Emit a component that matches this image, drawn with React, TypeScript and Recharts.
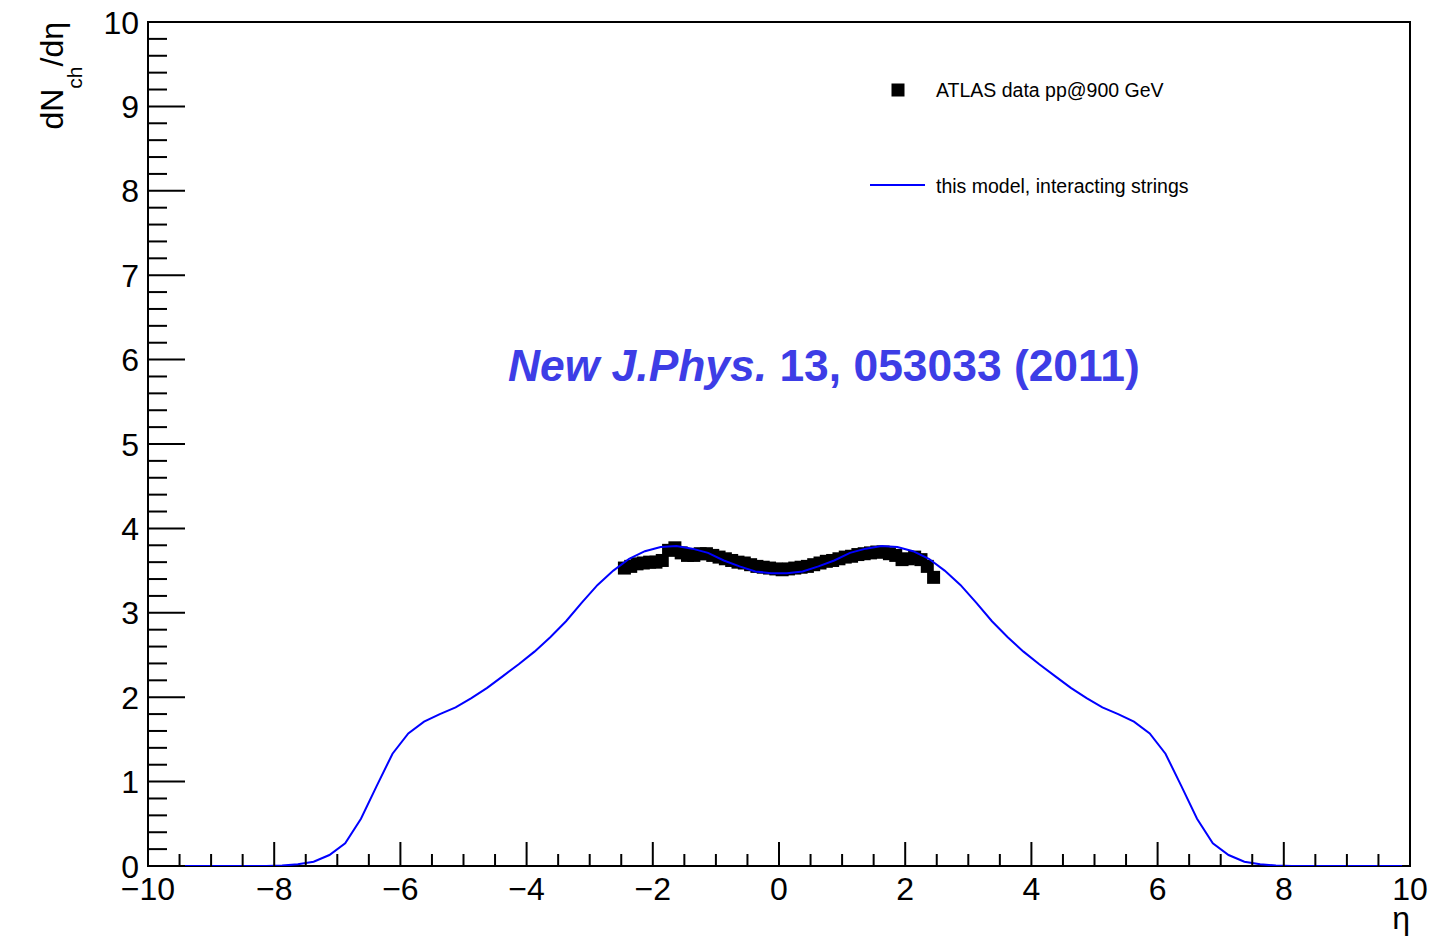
import React from "react";
import {
  ComposedChart,
  Line,
  Scatter,
  XAxis,
  YAxis,
  ReferenceArea,
} from "recharts";

// model curve, bin centres in eta
const modelEta = [
  -9.875, -9.625, -9.375, -9.125, -8.875, -8.625, -8.375, -8.125, -7.875, -7.625,
  -7.375, -7.125, -6.875, -6.625, -6.375, -6.125, -5.875, -5.625, -5.375, -5.125,
  -4.875, -4.625, -4.375, -4.125, -3.875, -3.625, -3.375, -3.125, -2.875, -2.625,
  -2.375, -2.125, -1.875, -1.625, -1.375, -1.125, -0.875, -0.625, -0.375, -0.125,
  0.125, 0.375, 0.625, 0.875, 1.125, 1.375, 1.625, 1.875, 2.125, 2.375,
  2.625, 2.875, 3.125, 3.375, 3.625, 3.875, 4.125, 4.375, 4.625, 4.875,
  5.125, 5.375, 5.625, 5.875, 6.125, 6.375, 6.625, 6.875, 7.125, 7.375,
  7.625, 7.875, 8.125, 8.375, 8.625, 8.875, 9.125, 9.375, 9.625, 9.875,
];
const modelDn = [
  0, 0, 0, 0, 0, 0, 0, 0.001, 0.005, 0.02,
  0.05, 0.13, 0.27, 0.56, 0.95, 1.33, 1.57, 1.71, 1.8, 1.88,
  1.99, 2.11, 2.25, 2.39, 2.54, 2.71, 2.9, 3.12, 3.33, 3.5,
  3.64, 3.73, 3.78, 3.79, 3.76, 3.71, 3.62, 3.55, 3.49, 3.47,
  3.47, 3.49, 3.55, 3.62, 3.71, 3.76, 3.79, 3.78, 3.73, 3.64,
  3.5, 3.33, 3.12, 2.9, 2.71, 2.54, 2.39, 2.25, 2.11, 1.99,
  1.88, 1.8, 1.71, 1.57, 1.33, 0.95, 0.56, 0.27, 0.13, 0.05,
  0.02, 0.005, 0.001, 0, 0, 0, 0, 0, 0, 0,
];

// ATLAS pp @ 900 GeV
const atlasEta = [
  -2.45, -2.35, -2.25, -2.15, -2.05, -1.95, -1.85, -1.75, -1.65, -1.55,
  -1.45, -1.35, -1.25, -1.15, -1.05, -0.95, -0.85, -0.75, -0.65, -0.55,
  -0.45, -0.35, -0.25, -0.15, -0.05, 0.05, 0.15, 0.25, 0.35, 0.45,
  0.55, 0.65, 0.75, 0.85, 0.95, 1.05, 1.15, 1.25, 1.35, 1.45,
  1.55, 1.65, 1.75, 1.85, 1.95, 2.05, 2.15, 2.25, 2.35, 2.45,
];
const atlasDn = [
  3.53, 3.55, 3.58, 3.59, 3.6, 3.6, 3.62, 3.74, 3.77, 3.71,
  3.68, 3.68, 3.7, 3.7, 3.68, 3.66, 3.64, 3.62, 3.6, 3.59,
  3.57, 3.55, 3.54, 3.53, 3.52, 3.51, 3.52, 3.53, 3.54, 3.55,
  3.57, 3.59, 3.61, 3.62, 3.64, 3.66, 3.67, 3.69, 3.7, 3.71,
  3.72, 3.72, 3.7, 3.68, 3.63, 3.64, 3.66, 3.63, 3.55, 3.42,
];

const xTicks = Array.from({ length: 41 }, (_, i) => -10 + i * 0.5);
const yTicks = Array.from({ length: 51 }, (_, i) => i * 0.2);

const modelData = modelEta.map((x, i) => ({ x, y: modelDn[i] }));
const atlasData = atlasEta.map((x, i) => ({ x, y: atlasDn[i] }));

const W = 1430;
const H = 941;
const LEFT = 148;
const BOTTOM = 866;
const FONT = "'Liberation Sans', Arial, Helvetica, sans-serif";

const isMajor = (v: number, step: number) =>
  Math.abs(v / step - Math.round(v / step)) < 1e-6;

const fmt = (v: number) => {
  const r = Math.round(v);
  return r < 0 ? "\u2212" + Math.abs(r) : String(r);
};

function XTick(props: any) {
  const { x, payload } = props;
  const major = isMajor(payload.value, 2);
  return (
    <g>
      <line
        x1={x}
        x2={x}
        y1={BOTTOM}
        y2={BOTTOM - (major ? 24 : 12)}
        stroke="#000"
        strokeWidth={2}
      />
      {major && (
        <text
          x={x}
          y={900}
          textAnchor="middle"
          fontSize={32}
          fontFamily={FONT}
          fill="#000"
        >
          {fmt(payload.value)}
        </text>
      )}
    </g>
  );
}

function YTick(props: any) {
  const { y, payload } = props;
  const major = isMajor(payload.value, 1);
  return (
    <g>
      <line
        x1={LEFT}
        x2={LEFT + (major ? 37 : 19)}
        y1={y}
        y2={y}
        stroke="#000"
        strokeWidth={2}
      />
      {major && (
        <text
          x={139}
          y={y + 11.5}
          textAnchor="end"
          fontSize={32}
          fontFamily={FONT}
          fill="#000"
        >
          {fmt(payload.value)}
        </text>
      )}
    </g>
  );
}

function SquareDot(props: any) {
  const { cx, cy } = props;
  if (cx == null || cy == null) return null;
  return <rect x={cx - 6.5} y={cy - 6.5} width={13} height={13} fill="#000" />;
}

export default function App() {
  return (
    <div
      style={{
        position: "fixed",
        left: 0,
        top: 0,
        width: W,
        height: H,
        background: "#fff",
      }}
    >
      <ComposedChart
        width={W}
        height={H}
        margin={{ top: 22, right: 20, bottom: 0, left: 0 }}
      >
        <XAxis
          type="number"
          dataKey="x"
          domain={[-10, 10]}
          ticks={xTicks}
          interval={0}
          tick={<XTick />}
          tickLine={false}
          axisLine={false}
          height={75}
          allowDataOverflow
        />
        <YAxis
          type="number"
          dataKey="y"
          domain={[0, 10]}
          ticks={yTicks}
          interval={0}
          tick={<YTick />}
          tickLine={false}
          axisLine={false}
          width={LEFT}
          allowDataOverflow
        />
        <ReferenceArea
          x1={-10}
          x2={10}
          y1={0}
          y2={10}
          fill="none"
          stroke="#000"
          strokeWidth={2}
          ifOverflow="visible"
        />
        {/* ATLAS points under the model curve */}
        <Scatter
          data={atlasData}
          dataKey="y"
          shape={<SquareDot />}
          zIndex={300}
          isAnimationActive={false}
        />
        <Line
          data={modelData}
          dataKey="y"
          type="linear"
          stroke="#0000ff"
          strokeWidth={2}
          dot={false}
          activeDot={false}
          zIndex={800}
          isAnimationActive={false}
        />
      </ComposedChart>
      <svg
        width={W}
        height={H}
        style={{ position: "absolute", left: 0, top: 0, pointerEvents: "none" }}
        fontFamily={FONT}
      >
        {/* axis titles */}
        <text
          transform="translate(63,22) rotate(-90)"
          textAnchor="end"
          fontSize={32}
          fill="#000"
        >
          dN
          <tspan fontSize={21} dy={19}>
            ch
          </tspan>
          <tspan dy={-19}>/dη</tspan>
        </text>
        <text x={1410} y={929} textAnchor="end" fontSize={32} fill="#000">
          η
        </text>

        {/* legend */}
        <rect x={891.5} y={83.5} width={13} height={13} fill="#000" />
        <text x={936} y={96.5} fontSize={19.5} fill="#000">
          ATLAS data pp@900 GeV
        </text>
        <line x1={870} x2={925} y1={185} y2={185} stroke="#0000ff" strokeWidth={2} />
        <text x={936} y={192.5} fontSize={19.5} fill="#000">
          this model, interacting strings
        </text>

        {/* reference */}
        <text x={508} y={381} fontSize={44.4} fontWeight="bold" fill="#3d3de6">
          <tspan fontStyle="italic">New J.Phys.</tspan> 13, 053033 (2011)
        </text>
      </svg>
    </div>
  );
}
